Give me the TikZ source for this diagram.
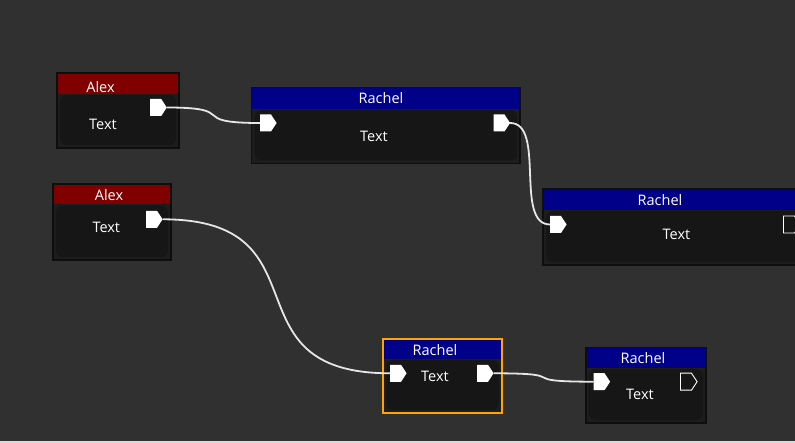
\documentclass[tikz,border=0pt]{standalone}
\usepackage{fontspec}
\setmainfont{Open Sans}
\definecolor{bg}{HTML}{303030}
\definecolor{bodyout}{HTML}{1D1D1D}
\definecolor{bodyin}{HTML}{161616}
\definecolor{edge}{HTML}{0E0E0E}
\definecolor{hred}{HTML}{800000}
\definecolor{hblue}{HTML}{000088}
\definecolor{wire}{HTML}{E6E6E6}
\definecolor{sel}{HTML}{FFA500}
\tikzset{
  lbl/.style={text=white, inner sep=0pt, font=\fontsize{14.5pt}{16pt}\selectfont},
  pinfill/.style={fill=white, draw=none},
  pinline/.style={draw=white, line width=0.9pt, fill=none},
  wireline/.style={draw=wire, line width=1.8pt},
  nodeedge/.style={draw=edge, line width=1.6pt},
  seledge/.style={draw=sel, line width=2pt},
}
% box: name, x1, y1, x2, y2, header colour, header bottom, edge style
\newcommand\gbox[8]{%
  \fill[bodyout] (#2,#3) rectangle (#4,#5);
  \fill[bodyin, rounded corners=7pt] (#2+3,#7+1) rectangle (#4-3,#5-3);
  \fill[#6] (#2,#3) rectangle (#4,#7);
  \draw[#8] (#2,#3) rectangle (#4,#5);
  \coordinate (#1) at ({(#2+#4)/2},{(#3+#5)/2});
}
% pin: name, x (left), y (centre), style
\newcommand\gpin[4]{%
  \path[#4] (#2,#3-8.5) -- ++(11,0) -- ++(5.6,8.5) -- ++(-5.6,8.5) -- ++(-11,0) -- cycle;
  \coordinate (#1-l) at (#2,#3);
  \coordinate (#1-r) at (#2+16.6,#3);
}
\begin{document}
\begin{tikzpicture}[x=1pt,y=-1pt]
\useasboundingbox (0,0) rectangle (795,443);
\clip (0,0) rectangle (795,443);
\fill[bg] (0,0) rectangle (795,443);
\fill[black!15] (0,440.5) rectangle (795,443);

% boxes
\gbox{n1}{57}{73}{179}{148}{hred}{94}{nodeedge}
\gbox{n2}{251.5}{87.5}{520}{163.5}{hblue}{109}{nodeedge}
\gbox{n3}{543}{189}{830}{265}{hblue}{210}{nodeedge}
\gbox{n4}{53}{184}{171}{260}{hred}{204.5}{nodeedge}
\gbox{n5}{383.3}{338.7}{502}{413}{hblue}{359}{seledge}
\gbox{n6}{586}{347.5}{706}{423}{hblue}{368}{nodeedge}

% titles and texts
\node[lbl] (t1) at (100.5,87) {Alex};
\node[lbl] (b1) at (103,124.5) {Text};
\node[lbl] (t2) at (381,98.5) {Rachel};
\node[lbl] (b2) at (374,136.5) {Text};
\node[lbl] (t3) at (660,200.5) {Rachel};
\node[lbl] (b3) at (676.5,234) {Text};
\node[lbl] (t4) at (109,195.5) {Alex};
\node[lbl] (b4) at (106.3,227.5) {Text};
\node[lbl] (t5) at (435,350) {Rachel};
\node[lbl] (b5) at (435,376.5) {Text};
\node[lbl] (t6) at (643,358) {Rachel};
\node[lbl] (b6) at (640,394) {Text};

% pins
\gpin{p1o}{150.2}{107.5}{pinfill}
\gpin{p2i}{260}{123}{pinfill}
\gpin{p2o}{493.5}{123}{pinfill}
\gpin{p3i}{550}{224.5}{pinfill}
\gpin{p3o}{783.5}{224.5}{pinline}
\gpin{p4o}{146}{219.3}{pinfill}
\gpin{p5i}{390}{373.3}{pinfill}
\gpin{p5o}{477}{373.3}{pinfill}
\gpin{p6i}{593.5}{381.7}{pinfill}
\gpin{p6o}{680.5}{381.7}{pinline}

% wires
\draw[wireline] (p1o-r) .. controls ++(75,0) and ++(-75,0) .. (p2i-l);
\draw[wireline] (p2o-r) .. controls ++(36,0) and ++(-36,0) .. (p3i-l);
\draw[wireline] (p4o-r) .. controls ++(168,0) and ++(-168,0) .. (p5i-l);
\draw[wireline] (p5o-r) .. controls ++(84,0) and ++(-84,0) .. (p6i-l);
\end{tikzpicture}
\end{document}
